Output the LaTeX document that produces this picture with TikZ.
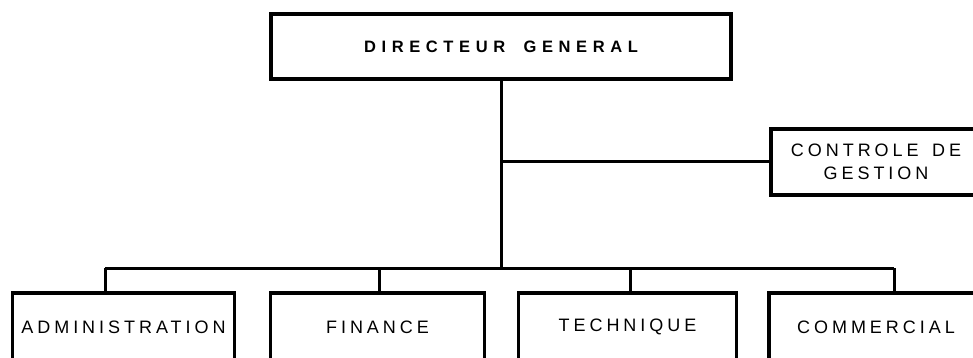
\documentclass[tikz,border=0pt]{standalone}
\usepackage{fontspec}
\setmainfont{Liberation Sans}
\newfontfamily\orgfont[LetterSpace=22, WordSpace=1.5]{Liberation Sans}
\newfontfamily\orgboldfont[LetterSpace=34, WordSpace=1.8]{Liberation Sans Bold}
\tikzset{
    orgbox/.style={draw, line width=3.5pt, inner sep=0pt, align=center,
        font=\orgfont\fontsize{18}{23}\selectfont},
    orgline/.style={line width=3pt},
}
\begin{document}
\begin{tikzpicture}[x=1pt, y=-1pt]
    \useasboundingbox (0,0) rectangle (973,358);

    \node[orgbox, minimum width=460pt, minimum height=65pt, font=\orgboldfont\fontsize{16.5}{20}\selectfont] (dg) at (501,46.5) {DIRECTEUR GENERAL};
    \node[orgbox, minimum width=210pt, minimum height=66pt] (cg) at (876,162) {CONTROLE DE\\GESTION};

    \node[orgbox, minimum width=222pt, minimum height=68pt] (adm) at (123.5,327) {ADMINISTRATION};
    \node[orgbox, minimum width=214pt, minimum height=68pt] (fin) at (377.5,327) {FINANCE};
    \node[orgbox, minimum width=218pt, minimum height=68pt] (tec) at (627.5,327) {TECHNIQUE};
    \node[orgbox, minimum width=214pt, minimum height=68pt] (com) at (876,327) {COMMERCIAL};

    \coordinate (b1) at (105,268);
    \coordinate (b2) at (379,268);
    \coordinate (b3) at (630,268);
    \coordinate (b4) at (894,268);

    \draw[orgline] (dg.south) -- (dg.south |- b1);
    \draw[orgline] (dg.south |- cg.west) -- (cg.west);
    \draw[orgline] (b1) -- (b4);

    \draw[orgline] (b1) -- (b1 |- adm.north);
    \draw[orgline] (b2) -- (b2 |- fin.north);
    \draw[orgline] (b3) -- (b3 |- tec.north);
    \draw[orgline] (b4) -- (b4 |- com.north);
\end{tikzpicture}
\end{document}
